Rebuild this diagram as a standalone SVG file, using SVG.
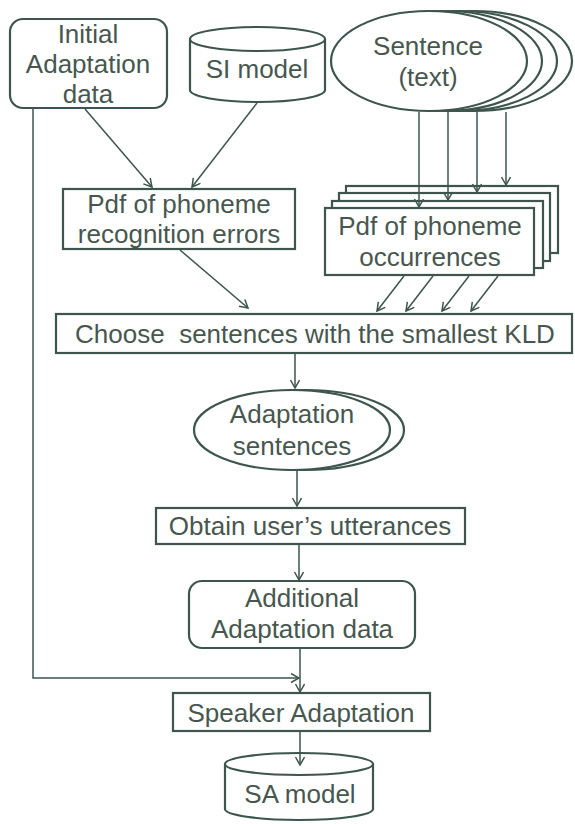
<svg xmlns="http://www.w3.org/2000/svg" width="575" height="824" viewBox="0 0 575 824">
<style>
.s{fill:#fff;stroke:#3d554d;stroke-width:2.2}
.c{fill:none;stroke:#3d554d;stroke-width:1.5}
.t{font-family:"Liberation Sans",Arial,sans-serif;font-size:26px;fill:#47574f;text-anchor:middle}
</style>
<defs>
<marker id="a" markerWidth="12" markerHeight="12" refX="9" refY="5" orient="auto" markerUnits="userSpaceOnUse">
<path d="M1,0.5 L9,5 L1,9.5" fill="none" stroke="#3d554d" stroke-width="1.5"/>
</marker>
</defs>
<rect width="575" height="824" fill="#fff"/>
<g id="initial">
<rect class="s" x="10" y="19" width="157" height="89" rx="13"/>
<text class="t" x="88" y="43">Initial</text>
<text class="t" x="88" y="73">Adaptation</text>
<text class="t" x="88" y="103">data</text>
</g>
<g id="si-model">
<path class="s" d="M190,39 L190,90 A67.5,12 0 0 0 325,90 L325,39"/>
<ellipse class="s" cx="257.5" cy="39" rx="67.5" ry="12"/>
<text class="t" x="257" y="78">SI model</text>
</g>
<g id="sentence">
<ellipse class="s" cx="474" cy="61" rx="98" ry="50"/>
<ellipse class="s" cx="459" cy="61" rx="98" ry="50"/>
<ellipse class="s" cx="444" cy="61" rx="98" ry="50"/>
<ellipse class="s" cx="429" cy="61" rx="98" ry="50"/>
<text class="t" x="428" y="55">Sentence</text>
<text class="t" x="428" y="86">(text)</text>
</g>
<g id="pdf-errors">
<rect class="s" x="63" y="189" width="232" height="60"/>
<text class="t" x="179" y="213">Pdf of phoneme</text>
<text class="t" x="179" y="243">recognition errors</text>
</g>
<g id="pdf-occurrences">
<rect class="s" x="346" y="186" width="212" height="67"/>
<rect class="s" x="339" y="193" width="211" height="68"/>
<rect class="s" x="332" y="201" width="211" height="67"/>
<rect class="s" x="325" y="208" width="209" height="67"/>
<text class="t" x="430" y="235">Pdf of phoneme</text>
<text class="t" x="430" y="266">occurrences</text>
</g>
<g id="choose">
<rect class="s" x="56" y="314" width="516" height="39"/>
<text class="t" x="315" y="343" xml:space="preserve">Choose  sentences with the smallest KLD</text>
</g>
<g id="adaptation-sentences">
<ellipse class="s" cx="306" cy="430" rx="98" ry="40"/>
<ellipse class="s" cx="292" cy="430" rx="98" ry="40"/>
<text class="t" x="292" y="423">Adaptation</text>
<text class="t" x="292" y="455">sentences</text>
</g>
<g id="obtain">
<rect class="s" x="156" y="508" width="309" height="36"/>
<text class="t" x="310" y="535">Obtain user’s utterances</text>
</g>
<g id="additional">
<rect class="s" x="189" y="581" width="226" height="67" rx="13"/>
<text class="t" x="302" y="607">Additional</text>
<text class="t" x="302" y="638">Adaptation data</text>
</g>
<g id="speaker">
<rect class="s" x="173" y="693" width="257" height="38"/>
<text class="t" x="301" y="722">Speaker Adaptation</text>
</g>
<g id="sa-model">
<path class="s" d="M225,764 L225,809 A74,11 0 0 0 373,809 L373,764"/>
<ellipse class="s" cx="299" cy="764" rx="74" ry="11"/>
<text class="t" x="300" y="803">SA model</text>
</g>
<g id="connectors">
<path class="c" d="M85,109 L152,187" marker-end="url(#a)"/>
<path class="c" d="M257,103 L192,187" marker-end="url(#a)"/>
<path class="c" d="M180,250 L248,308" marker-end="url(#a)"/>
<path class="c" d="M419,112 L419,207" marker-end="url(#a)"/>
<path class="c" d="M448,112 L448,200" marker-end="url(#a)"/>
<path class="c" d="M477,112 L477,192" marker-end="url(#a)"/>
<path class="c" d="M506,112 L506,185" marker-end="url(#a)"/>
<path class="c" d="M404,276 L377,311" marker-end="url(#a)"/>
<path class="c" d="M433,276 L406,311" marker-end="url(#a)"/>
<path class="c" d="M469,276 L442,311" marker-end="url(#a)"/>
<path class="c" d="M498,276 L471,311" marker-end="url(#a)"/>
<path class="c" d="M295,354 L295,388" marker-end="url(#a)"/>
<path class="c" d="M297,471 L297,506" marker-end="url(#a)"/>
<path class="c" d="M299,545 L299,580" marker-end="url(#a)"/>
<path class="c" d="M33,109 L33,678 L299,678" marker-end="url(#a)"/>
<path class="c" d="M300,649 L300,692" marker-end="url(#a)"/>
<path class="c" d="M300,732 L300,765" marker-end="url(#a)"/>
</g>
</svg>
